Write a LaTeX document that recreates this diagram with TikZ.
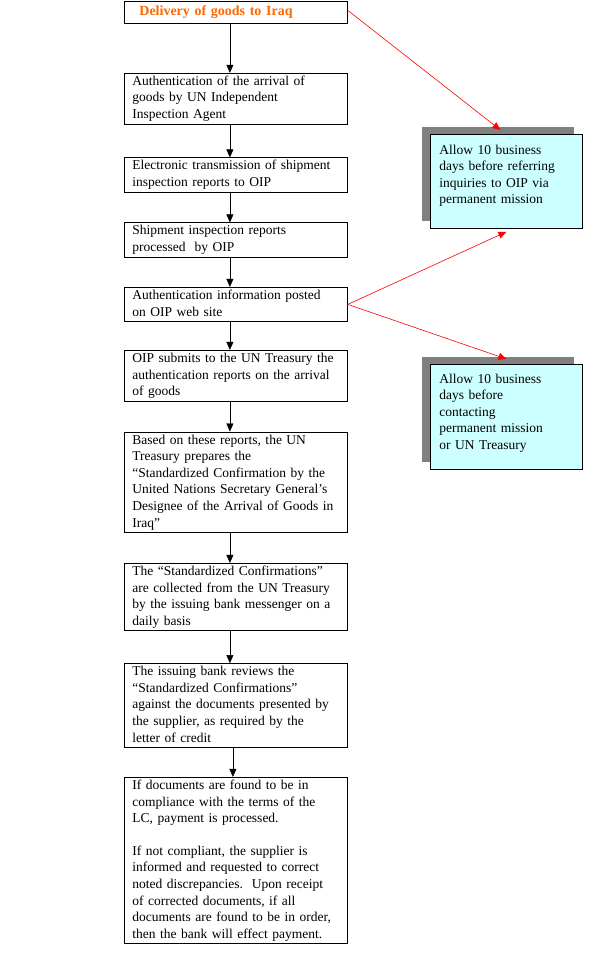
\documentclass[tikz,border=0pt]{standalone}
\usepackage{fontspec}
\setmainfont{Liberation Serif}
\usetikzlibrary{positioning,arrows.meta,shadows}
\definecolor{deliverorange}{HTML}{FF6600}
\definecolor{notecyan}{HTML}{CCFFFF}
\definecolor{shadowgray}{HTML}{808080}

\begin{document}
\begin{tikzpicture}[
  x=1pt, y=1pt,
  >={Triangle[length=8pt,width=7pt]},
  box/.style={draw, line width=0.8pt, align=left, text width=207pt, inner xsep=8pt, inner ysep=0.5pt,
    font=\fontsize{13.5}{16.6}\selectfont, execute at begin node=\strut, execute at end node=\strut},
  note/.style={box, fill=notecyan, text width=134pt, inner xsep=9pt, anchor=north west,
    drop shadow={shadow xshift=-8pt, shadow yshift=7pt, fill=shadowgray, opacity=1}},
  link/.style={->, red, line width=0.6pt}
]
\useasboundingbox (0,0) rectangle (595,-962);
\node[box, anchor=north west, text width=193pt, inner xsep=15pt, inner ysep=2.7pt,
  font=\fontsize{14}{16.6}\selectfont\bfseries, text=deliverorange] (deliv) at (124,-1) {Delivery of goods to Iraq};
\node[box, below=49pt of deliv] (auth) {Authentication of the arrival of\\goods by UN Independent\\Inspection Agent};
\node[box, below=33pt of auth] (trans) {Electronic transmission of shipment\\inspection reports to OIP};
\node[box, below=30pt of trans] (proc) {Shipment inspection reports\\processed\ \ by OIP};
\node[box, below=29.5pt of proc] (post) {Authentication information posted\\on OIP web site};
\node[box, below=28pt of post] (submit) {OIP submits to the UN Treasury the\\authentication reports on the arrival\\of goods};
\node[box, below=30pt of submit] (prep) {Based on these reports, the UN\\Treasury prepares the\\“Standardized Confirmation by the\\United Nations Secretary General's\\Designee of the Arrival of Goods in\\Iraq”};
\node[box, below=30pt of prep] (collect) {The “Standardized Confirmations”\\are collected from the UN Treasury\\by the issuing bank messenger on a\\daily basis};
\node[box, below=32pt of collect] (review) {The issuing bank reviews the\\“Standardized Confirmations”\\against the documents presented by\\the supplier, as required by the\\letter of credit};
\node[box, below=29pt of review] (pay) {If documents are found to be in\\compliance with the terms of the\\LC, payment is processed.\\[16pt]If not compliant, the supplier is\\informed and requested to correct\\noted discrepancies.\ \ Upon receipt\\of corrected documents, if all\\documents are found to be in order,\\then the bank will effect payment.};

% side notes
\node[note, inner ysep=8pt, text depth=66.4pt] (waitoip) at (430,-134) {Allow 10 business\\days before referring\\inquiries to OIP via\\permanent mission};
\node[note, inner ysep=7pt, text depth=79.4pt] (waitun) at (430,-364) {Allow 10 business\\days before\\contacting\\permanent mission\\or UN Treasury};

\draw[->] ([xshift=-6pt]deliv.south) -- ([xshift=-6pt]auth.north);
\draw[->] ([xshift=-6pt]auth.south) -- ([xshift=-6pt]trans.north);
\draw[->] ([xshift=-6pt]trans.south) -- ([xshift=-6pt]proc.north);
\draw[->] ([xshift=-6pt]proc.south) -- ([xshift=-6pt]post.north);
\draw[->] ([xshift=-6pt]post.south) -- ([xshift=-6pt]submit.north);
\draw[->] ([xshift=-6pt]submit.south) -- ([xshift=-6pt]prep.north);
\draw[->] ([xshift=-6pt]prep.south) -- ([xshift=-6pt]collect.north);
\draw[->] ([xshift=-6pt]collect.south) -- ([xshift=-6pt]review.north);
\draw[->] ([xshift=-3pt]review.south) -- ([xshift=-3pt]pay.north);

\draw[link] ([yshift=2pt]deliv.east) -- ([shift={(-6pt,4pt)}]waitoip.north);
\draw[link] (post.east) -- ([yshift=-3pt]waitoip.south);
\draw[link] (post.east) -- ([yshift=5pt]waitun.north);
\end{tikzpicture}
\end{document}
